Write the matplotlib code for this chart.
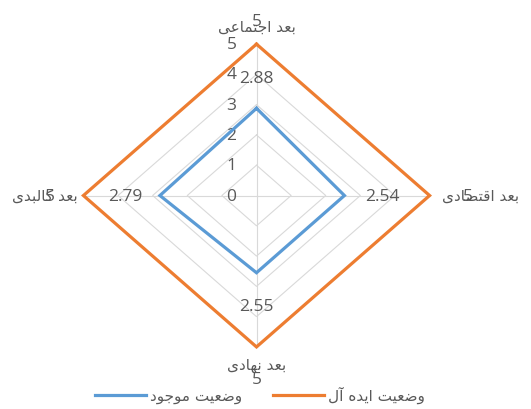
import numpy as np
import matplotlib
matplotlib.use("Agg")
import matplotlib.pyplot as plt

plt.rcParams['font.family'] = ['Open Sans', 'DejaVu Sans']

# ------------------------------------------------------------
# data
# ------------------------------------------------------------
categories = ['بعد اجتماعی', 'بعد اقتصادی', 'بعد نهادی', 'بعد کالبدی']
current = [2.88, 2.54, 2.55, 2.79]
ideal = [5, 5, 5, 5]
series_names = ['وضعیت موجود', 'وضعیت ایده آل']
ticks = [0, 1, 2, 3, 4, 5]

BLUE = '#5B9BD5'
ORANGE = '#ED7D31'
GRID = '#D9D9D9'
TXT = '#595959'

# ------------------------------------------------------------
# tiny persian shaper (matplotlib has no bidi / joining)
# ------------------------------------------------------------
FORMS = {
    'ا': ('\uFE8D', '\uFE8E'), 'آ': ('\uFE81', '\uFE82'),
    'د': ('\uFEA9', '\uFEAA'), 'و': ('\uFEED', '\uFEEE'),
    'ب': ('\uFE8F', '\uFE90', '\uFE91', '\uFE92'),
    'ت': ('\uFE95', '\uFE96', '\uFE97', '\uFE98'),
    'ج': ('\uFE9D', '\uFE9E', '\uFE9F', '\uFEA0'),
    'ص': ('\uFEB9', '\uFEBA', '\uFEBB', '\uFEBC'),
    'ض': ('\uFEBD', '\uFEBE', '\uFEBF', '\uFEC0'),
    'ع': ('\uFEC9', '\uFECA', '\uFECB', '\uFECC'),
    'ق': ('\uFED5', '\uFED6', '\uFED7', '\uFED8'),
    'ل': ('\uFEDD', '\uFEDE', '\uFEDF', '\uFEE0'),
    'م': ('\uFEE1', '\uFEE2', '\uFEE3', '\uFEE4'),
    'ن': ('\uFEE5', '\uFEE6', '\uFEE7', '\uFEE8'),
    'ه': ('\uFEE9', '\uFEEA', '\uFEEB', '\uFEEC'),
    'ی': ('\uFBFC', '\uFBFD', '\uFBFE', '\uFBFF'),
    'ک': ('\uFB8E', '\uFB8F', '\uFB90', '\uFB91'),
}


def fa(s):
    out = []
    for i, c in enumerate(s):
        if c not in FORMS:
            out.append(c)
            continue
        prev = s[i - 1] if i > 0 else ''
        nxt = s[i + 1] if i + 1 < len(s) else ''
        j_prev = prev in FORMS and len(FORMS[prev]) == 4
        j_next = len(FORMS[c]) == 4 and nxt in FORMS
        f = FORMS[c]
        if j_prev and j_next:
            out.append(f[3])
        elif j_prev:
            out.append(f[1])
        elif j_next:
            out.append(f[2])
        else:
            out.append(f[0])
    return ''.join(out)[::-1]


# ------------------------------------------------------------
# figure
# ------------------------------------------------------------
fig = plt.figure(figsize=(5.31, 4.10), dpi=100)
ax = fig.add_axes([0, 0, 1, 1])
ax.set_xlim(-7.41, 7.93)
ax.set_ylim(-7.05, 6.49)
ax.axis('off')

n = len(categories)
ang = np.pi / 2 - np.arange(n) * 2 * np.pi / n
ux, uy = np.cos(ang), np.sin(ang)


def closed(v):
    v = np.asarray(v, dtype=float)
    x, y = v * ux, v * uy
    return np.append(x, x[0]), np.append(y, y[0])


# grid
for t in ticks[1:]:
    gx, gy = closed([t] * n)
    ax.plot(gx, gy, color=GRID, lw=0.8, zorder=1)
for k in range(n):
    ax.plot([0, 5 * ux[k]], [0, 5 * uy[k]], color=GRID, lw=0.8, zorder=1)

# tick labels along the top spoke
for t in ticks:
    ax.annotate(str(t), (0, t), xytext=(-25, 0), textcoords='offset pixels',
                ha='center', va='center', fontsize=12.5, color=TXT)

# series
lines = []
for vals, col, name in [(current, BLUE, series_names[0]), (ideal, ORANGE, series_names[1])]:
    x, y = closed(vals)
    ln, = ax.plot(x, y, color=col, lw=2.3, solid_joinstyle='miter', zorder=3,
                  label=fa(name))
    lines.append(ln)

# data labels
offs_cur = [(0, 30), (38, 0), (0, -33), (-35, 0)]
offs_ide = [(0, 23), (38, 0), (0, -32), (-34, 0)]
for k in range(n):
    for vals, offs in [(current, offs_cur), (ideal, offs_ide)]:
        v = vals[k]
        ax.annotate(f'{v:g}', (v * ux[k], v * uy[k]), xytext=offs[k],
                    textcoords='offset pixels', ha='center', va='center',
                    fontsize=12.5, color=TXT, zorder=5)

# category labels
cat_pos = [((0, 5), (0, 18), 'center', 'center'),
           ((5, 0), (12, 0), 'left', 'center'),
           ((0, -5), (0, -18), 'center', 'center'),
           ((-5, 0), (-6, 0), 'right', 'center')]
for k, (xy, off, ha, va) in enumerate(cat_pos):
    ax.annotate(fa(categories[k]), xy, xytext=off, textcoords='offset pixels',
                ha=ha, va=va, fontsize=11, color=TXT, family=['DejaVu Sans'],
                zorder=4)

leg = fig.legend(handles=lines, loc='lower center', ncol=2, frameon=False,
                 bbox_to_anchor=(0.49, -0.02), handlelength=3.3,
                 handletextpad=0.3, columnspacing=2.0,
                 prop={'family': ['DejaVu Sans'], 'size': 11})
for t in leg.get_texts():
    t.set_color(TXT)

fig.savefig('out.png', dpi=100)
